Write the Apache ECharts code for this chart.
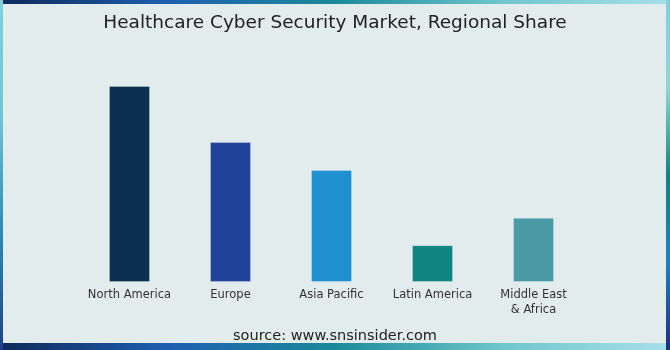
<!DOCTYPE html>
<html>
<head>
<meta charset="utf-8">
<script src="https://cdn.jsdelivr.net/npm/echarts@6/dist/echarts.min.js"></script>
<style>
html,body{margin:0;padding:0;background:#e3ecec;}
#main{width:670px;height:350px;}
</style>
</head>
<body>
<div id="main"></div>
<script>
const categories = ['North America', 'Europe', 'Asia Pacific', 'Latin America', 'Middle East\n& Africa'];
const shares = [35.7, 25.5, 20.4, 6.7, 11.7];
const barColors = ['#0b3050', '#21449a', '#2190d0', '#108481', '#4b9aa8'];
const titleText = 'Healthcare Cyber Security Market, Regional Share';
const sourceText = 'source: www.snsinsider.com';

const chart = echarts.init(document.getElementById('main'));
const W = 670, H = 350;
function grad(x, y, x2, y2, stops) {
  return new echarts.graphic.LinearGradient(x, y, x2, y2, stops.map((c, i) => ({offset: i / (stops.length - 1), color: c})));
}
chart.setOption({
  backgroundColor: '#e3ecec',
  animation: false,
  title: {
    text: titleText,
    left: 'center',
    top: 9,
    textStyle: {fontFamily: 'DejaVu Sans', fontWeight: 'normal', fontSize: 18.5, color: '#222'}
  },
  graphic: [
    {type: 'rect', silent: true, z: -10, shape: {x: 0, y: 0, width: W, height: 4}, style: {fill: grad(0, 0, 1, 0, ['#0e2a5a', '#1f5fb0', '#1a8a9a', '#6fc6cc', '#a8e0ea'])}},
    {type: 'rect', silent: true, z: -10, shape: {x: 0, y: H - 7, width: W, height: 7}, style: {fill: grad(0, 0, 1, 0, ['#0e2a5a', '#1f5fb0', '#1a8a9a', '#6fc6cc', '#a8e0ea'])}},
    {type: 'rect', silent: true, z: -10, shape: {x: 0, y: 0, width: 3, height: H}, style: {fill: grad(0, 0, 0, 1, ['#7fd0dc', '#6cc6d2', '#2a8ab8', '#1e3f8a'])}},
    {type: 'rect', silent: true, z: -10, shape: {x: W - 4, y: 0, width: 4, height: H}, style: {fill: grad(0, 0, 0, 1, ['#7fd0dc', '#8ed6e2', '#148282', '#2080c0', '#1e3080'])}},
    {type: 'text', left: 'center', top: 329, style: {text: sourceText, fontFamily: 'DejaVu Sans', fontSize: 14.5, fill: '#222'}}
  ],
  grid: {left: 79, right: 86, top: 62.4, bottom: 68},
  xAxis: {
    type: 'category',
    data: categories,
    axisLine: {show: false},
    axisTick: {show: false},
    axisLabel: {interval: 0, color: '#333', fontFamily: 'DejaVu Sans', fontSize: 11.5, margin: 6, lineHeight: 15}
  },
  yAxis: {type: 'value', min: 0, max: 40, show: false, splitLine: {show: false}},
  series: [{
    type: 'bar',
    barWidth: 41,
    data: shares.map((v, i) => ({value: v, itemStyle: {color: barColors[i], borderColor: 'rgba(255,255,255,0.25)', borderWidth: 1}}))
  }]
});
</script>
</body>
</html>
